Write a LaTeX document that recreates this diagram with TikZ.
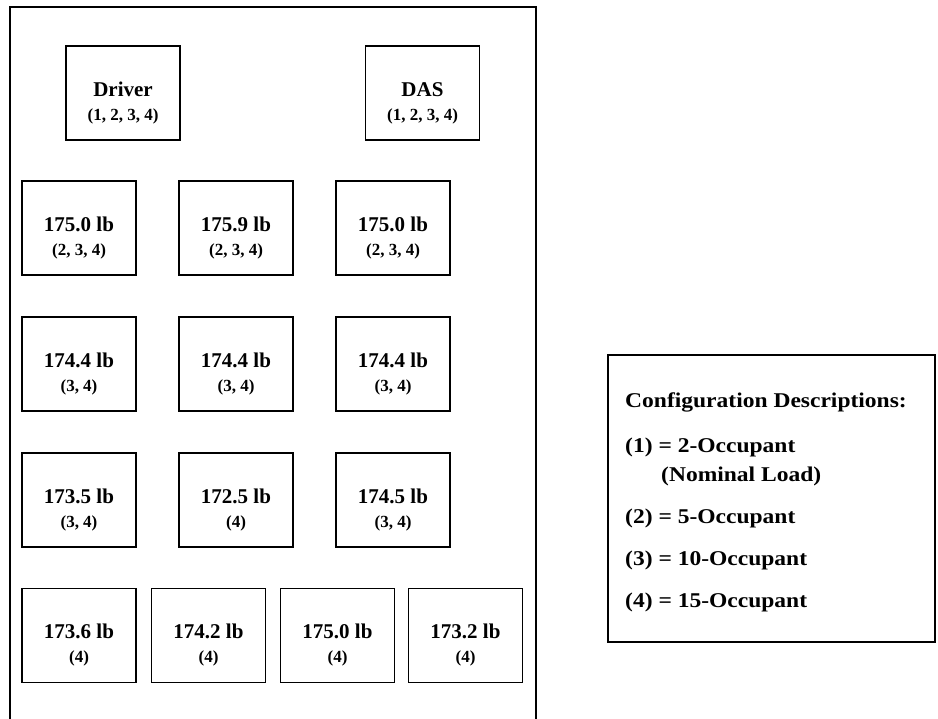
\documentclass[tikz,border=0pt]{standalone}
\usepackage{fontspec}
\setmainfont{Liberation Serif}
\newfontfamily\legfont{Liberation Serif}[FakeStretch=1.12]
\usetikzlibrary{calc}
\tikzset{
  cellbox/.style={draw, line width=1.4pt, minimum width=114pt, minimum height=94pt, inner sep=0pt},
  mainlbl/.style={anchor=base, inner sep=0pt, font=\fontsize{21}{24}\selectfont\bfseries},
  sublbl/.style={anchor=base, inner sep=0pt, font=\fontsize{17}{20}\selectfont\bfseries},
  legtxt/.style={anchor=base west, inner sep=0pt, font=\legfont\fontsize{21}{24}\selectfont\bfseries},
  frame/.style={line width=1.8pt}
}
\newcommand\mycell[5]{%
  \node[cellbox] (#1) at (#2,#3) {};
  \node[mainlbl] (#1m) at ($(#1.north)+(0,51)$) {#4};
  \node[sublbl] (#1s) at ($(#1.north)+(0,75)$) {#5};
}
\begin{document}
\begin{tikzpicture}[x=1pt,y=-1pt]
\useasboundingbox (0,0) rectangle (938,719);
% outer frame (continues below the picture)
\draw[frame] (10,725) -- (10,7) -- (536,7) -- (536,725);
% top row
\mycell{drv}{123}{93}{Driver}{(1, 2, 3, 4)}
\mycell{das}{422.5}{93}{DAS}{(1, 2, 3, 4)}
% row 2
\mycell{ra}{79}{228}{175.0 lb}{(2, 3, 4)}
\mycell{rb}{236}{228}{175.9 lb}{(2, 3, 4)}
\mycell{rc}{393}{228}{175.0 lb}{(2, 3, 4)}
% row 3
\mycell{sa}{79}{364}{174.4 lb}{(3, 4)}
\mycell{sb}{236}{364}{174.4 lb}{(3, 4)}
\mycell{sc}{393}{364}{174.4 lb}{(3, 4)}
% row 4
\mycell{ta}{79}{500}{173.5 lb}{(3, 4)}
\mycell{tb}{236}{500}{172.5 lb}{(4)}
\mycell{tc}{393}{500}{174.5 lb}{(3, 4)}
% row 5
\mycell{ua}{79}{635.5}{173.6 lb}{(4)}
\mycell{ub}{208.5}{635.5}{174.2 lb}{(4)}
\mycell{uc}{337.5}{635.5}{175.0 lb}{(4)}
\mycell{ud}{465.5}{635.5}{173.2 lb}{(4)}
% legend
\node[draw, line width=1.6pt, minimum width=327pt, minimum height=287pt, inner sep=0pt] (leg) at (771.5,498.5) {};
\node[legtxt] (l0) at (625,408) {Configuration Descriptions:};
\node[legtxt] (l1) at (625,453) {(1) = 2-Occupant};
\node[legtxt] (l1b) at (661,482) {(Nominal Load)};
\node[legtxt] (l2) at (625,523) {(2) = 5-Occupant};
\node[legtxt] (l3) at (625,565) {(3) = 10-Occupant};
\node[legtxt] (l4) at (625,607) {(4) = 15-Occupant};
\end{tikzpicture}
\end{document}
